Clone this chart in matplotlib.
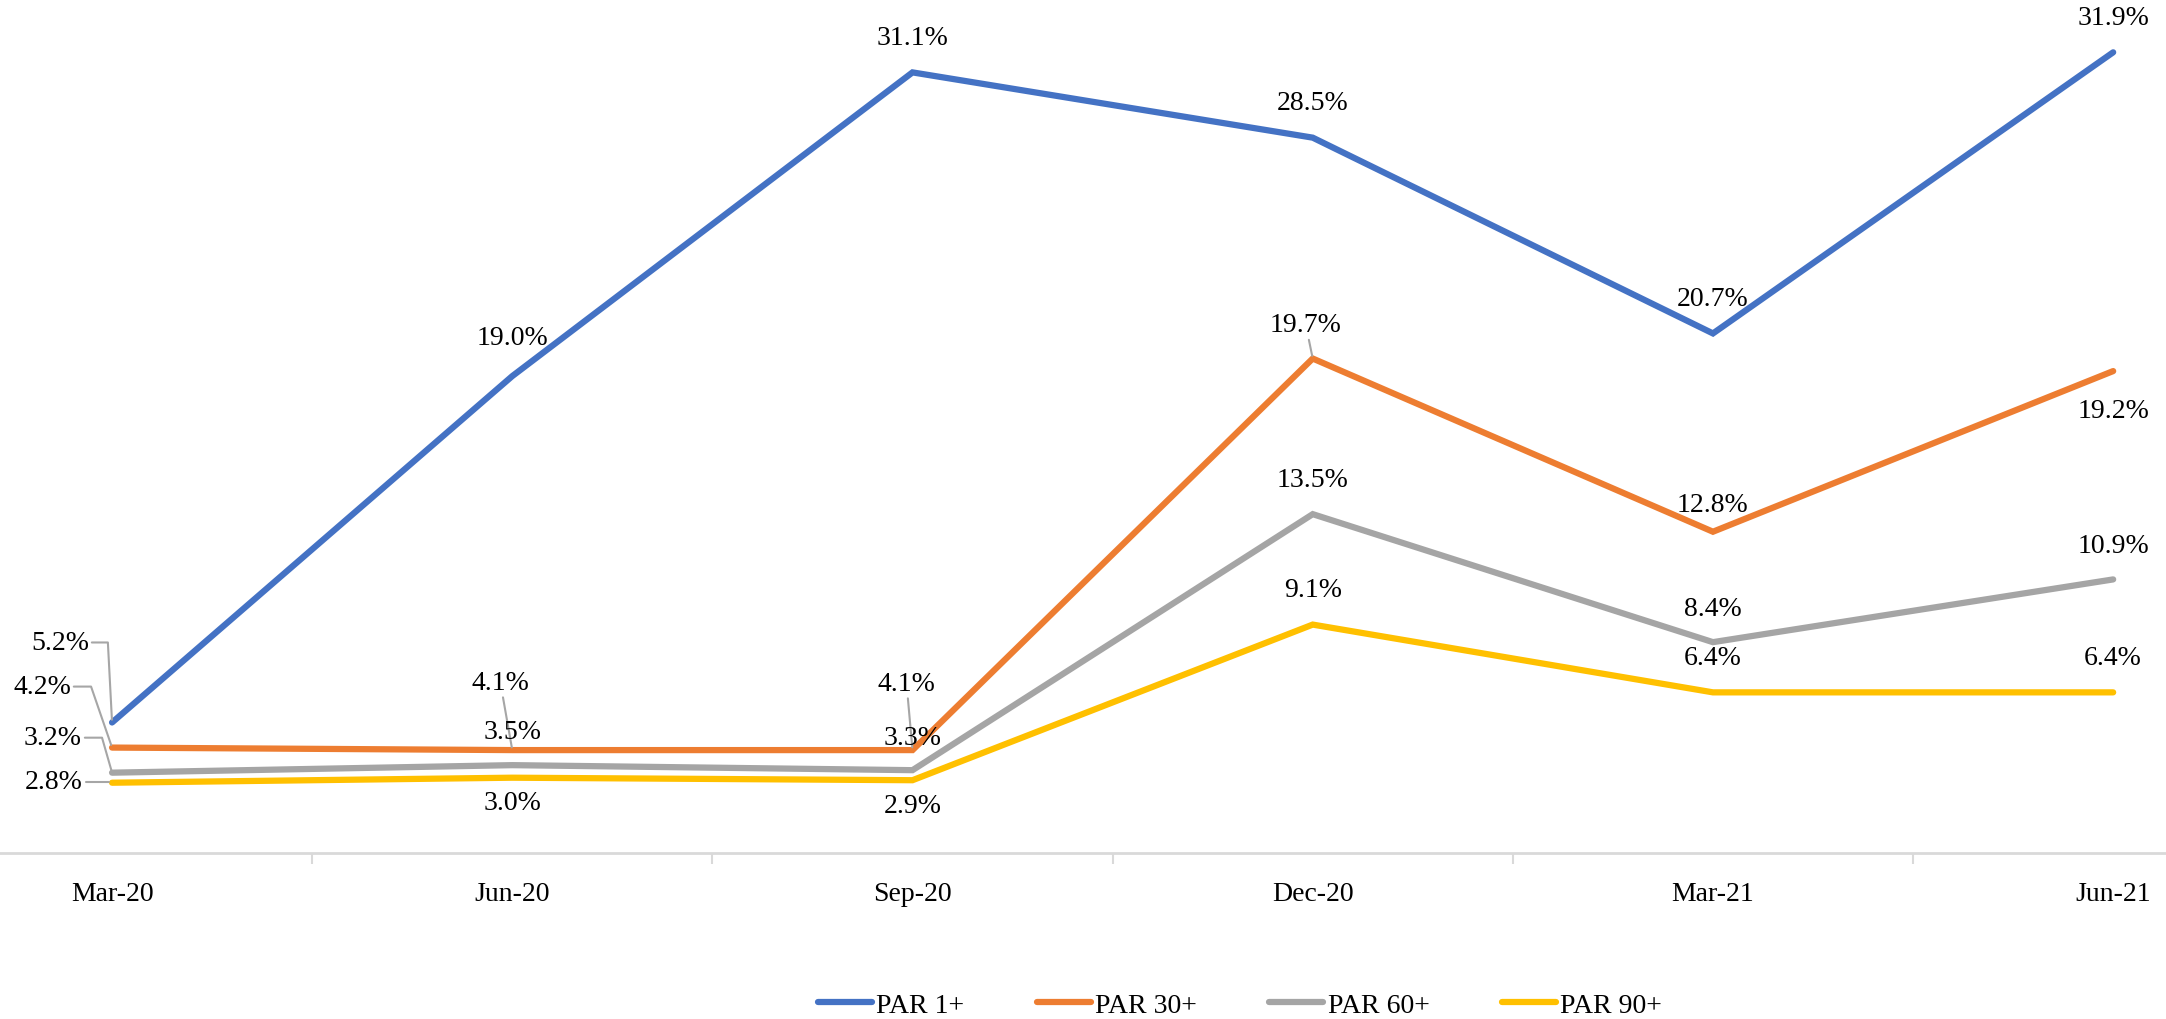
import matplotlib.pyplot as plt
from matplotlib.ticker import FixedLocator

# data
quarters = ["Mar-20", "Jun-20", "Sep-20", "Dec-20", "Mar-21", "Jun-21"]
par_1 = [5.2, 19.0, 31.1, 28.5, 20.7, 31.9]
par_30 = [4.2, 4.1, 4.1, 19.7, 12.8, 19.2]
par_60 = [3.2, 3.5, 3.3, 13.5, 8.4, 10.9]
par_90 = [2.8, 3.0, 2.9, 9.1, 6.4, 6.4]
series_names = ["PAR 1+", "PAR 30+", "PAR 60+", "PAR 90+"]

colors = ["#4472C4", "#ED7D31", "#A5A5A5", "#FFC000"]

# label offsets in pixels (dx, dy) and leader-line style per point
ABOVE = (0, 35)
BELOW = (0, -25)
label_offsets = [
    [(-52, 80), (0, 39), ABOVE, ABOVE, ABOVE, ABOVE],
    [(-70, 61), (-12, 68), (-6, 67), (-7, 34), (0, 27), (0, -39)],
    [(-59, 35), (0, 34), (0, 33), ABOVE, (0, 34), (0, 34)],
    [(-58, 1), BELOW, BELOW, ABOVE, (0, 35), (0, 35)],
]
# None = no leader, "straight", or angle of the elbow's lower leg
leaders = [
    [93, None, None, None, None, None],
    [109, "straight", "straight", "straight", None, None],
    [106, None, None, None, None, None],
    [158, None, None, None, None, None],
]

plt.rcParams['font.family'] = ['Liberation Serif', 'DejaVu Serif']
FS = 20
LEADER = "#A6A6A6"

fig = plt.figure(figsize=(21.66, 10.2), dpi=100)
ax = fig.add_axes([0, 166 / 1020, 1, 853.4 / 1020])

x = list(range(len(quarters)))
all_series = [par_1, par_30, par_60, par_90]
for vals, name, col in zip(all_series, series_names, colors):
    ax.plot(x, vals, color=col, lw=4.5, label=name,
            solid_capstyle='round', solid_joinstyle='miter', clip_on=False)

for s, vals in enumerate(all_series):
    for i, v in enumerate(vals):
        off = label_offsets[s][i]
        lead = leaders[s][i]
        kw = {}
        if lead == "straight":
            kw['arrowprops'] = dict(arrowstyle='-', color=LEADER, lw=1.5,
                                    shrinkA=0, shrinkB=2)
        elif lead is not None:
            kw['arrowprops'] = dict(arrowstyle='-', color=LEADER, lw=1.5,
                                    shrinkA=0, shrinkB=2,
                                    connectionstyle=f"angle,angleA=0,angleB={lead},rad=0")
        ax.annotate(f"{v:.1f}%", xy=(i, v), xytext=off, textcoords='offset pixels',
                    ha='center', va='center', fontsize=FS, color='black',
                    annotation_clip=False, **kw)

ax.set_xlim(-0.28, 5.132)
ax.set_ylim(0, 34)

for sp in ['top', 'left', 'right']:
    ax.spines[sp].set_visible(False)
ax.spines['bottom'].set_color('#D9D9D9')
ax.spines['bottom'].set_linewidth(2)

ax.set_yticks([])
ax.set_xticks(x)
ax.set_xticklabels(quarters, fontsize=FS)
ax.tick_params(axis='x', which='major', length=0, pad=20)
ax.xaxis.set_minor_locator(FixedLocator([i + 0.5 for i in x[:-1]]))
ax.tick_params(axis='x', which='minor', length=8, width=1.5, color='#D9D9D9')

fig.legend(loc='center', bbox_to_anchor=(1240 / 2166, 1 - 1006 / 1020), ncol=4,
           frameon=False, fontsize=FS, handlelength=1.95, handletextpad=0.15,
           columnspacing=2.6)

fig.savefig("out.png", dpi=100)
